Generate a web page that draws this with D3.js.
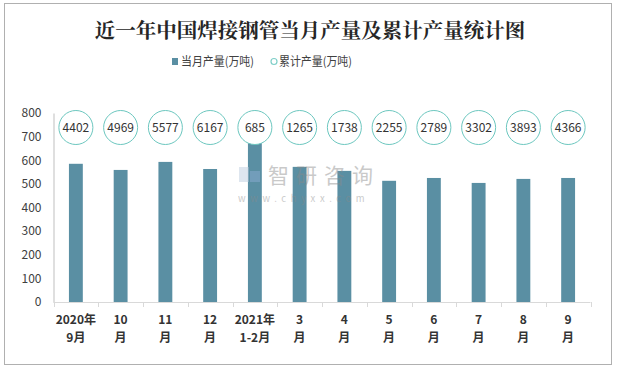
<!DOCTYPE html>
<html><head><meta charset="utf-8">
<script src="https://cdn.jsdelivr.net/npm/d3@7/dist/d3.min.js"></script>
<style>body{margin:0;background:#fff}svg{display:block}</style>
</head><body>
<svg id="c" width="617" height="369"></svg>
<script>
const categories = ["2020年|9月","10|月","11|月","12|月","2021年|1-2月","3|月","4|月","5|月","6|月","7|月","8|月","9|月"];
const monthly = [585,559,593,563,682,572,555,513,525,504,521,525];
const cumulative = [4402,4969,5577,6167,685,1265,1738,2255,2789,3302,3893,4366];
const yTicks = [0,100,200,300,400,500,600,700,800];

const svg = d3.select("#c");
const font = "'Microsoft YaHei','Noto Sans CJK SC',sans-serif";
svg.append("rect").attr("x",4.5).attr("y",3.5).attr("width",607).attr("height",361)
  .attr("fill","#fff").attr("stroke","#b0b0b0");

const x = d3.scaleBand().domain(categories).range([53.5,590.5]).paddingInner(0.69).paddingOuter(0.345);
const xb = d3.scaleBand().domain(categories).range([53.5,590.5]);
const y = d3.scaleLinear().domain([0,800]).range([302,113]);

// title
svg.append("text").attr("x",310).attr("y",38).attr("text-anchor","middle")
  .attr("font-family","'Noto Serif CJK SC','Noto Sans CJK SC',serif").attr("font-weight","bold")
  .attr("font-size",20.5).attr("fill","#262626").text("近一年中国焊接钢管当月产量及累计产量统计图");

// legend
const lg = svg.append("g").attr("font-family",font).attr("font-size",12).attr("fill","#404040");
lg.append("rect").attr("x",172).attr("y",58).attr("width",6).attr("height",7).attr("fill","#5a8fa3");
lg.append("text").attr("x",181).attr("y",66).attr("textLength",73).attr("lengthAdjust","spacingAndGlyphs").text("当月产量(万吨)");
lg.append("circle").attr("cx",274).attr("cy",61.5).attr("r",3).attr("fill","none").attr("stroke","#7fcfc8").attr("stroke-width",1.2);
lg.append("text").attr("x",279).attr("y",66).attr("textLength",73).attr("lengthAdjust","spacingAndGlyphs").text("累计产量(万吨)");

// y axis
const ya = svg.append("g").attr("transform","translate(53.5,0)")
  .call(d3.axisLeft(y).tickValues(yTicks).tickSize(0).tickPadding(12));
ya.select(".domain").attr("stroke","#bfbfbf");
ya.selectAll("text").attr("font-family",font).attr("font-size",12).attr("fill","#404040");

// bars
svg.append("g").selectAll("rect").data(categories).join("rect")
  .attr("x",d=>x(d)).attr("width",x.bandwidth())
  .attr("y",(d,i)=>y(monthly[i])).attr("height",(d,i)=>y(0)-y(monthly[i]))
  .attr("fill","#5a8fa3");

// watermark (over bars, semi-transparent)
const wm = svg.append("g").attr("opacity",0.45);
wm.append("rect").attr("x",239).attr("y",167).attr("width",10).attr("height",15).attr("fill","#b8c8dc");
wm.append("rect").attr("x",250).attr("y",171).attr("width",10).attr("height",11).attr("fill","#8fb0d6");
wm.append("text").attr("x",268).attr("y",183).attr("font-family",font).attr("font-size",21)
  .attr("fill","#8a8a8a").attr("letter-spacing",7).text("智研咨询");
wm.append("text").attr("x",238).attr("y",202).attr("font-family",font).attr("font-size",9.5)
  .attr("fill","#8a8a8a").attr("letter-spacing",4.6).text("www.chyxx.com");

// x axis
const xa = svg.append("g").attr("transform","translate(0,302)");
xa.append("line").attr("x1",53.5).attr("x2",590.5).attr("y1",0.5).attr("y2",0.5).attr("stroke","#d9d9d9");
xa.selectAll("line.t").data(d3.range(13)).join("line").attr("class","t")
  .attr("x1",i=>Math.round(53.5+xb.step()*i)+0.5).attr("x2",i=>Math.round(53.5+xb.step()*i)+0.5)
  .attr("y1",0).attr("y2",5).attr("stroke","#d9d9d9");
const xl = xa.selectAll("text").data(categories).join("text")
  .attr("text-anchor","middle").attr("font-family",font).attr("font-size",12).attr("font-weight","bold").attr("fill","#333");
xl.append("tspan").attr("x",d=>xb(d)+xb.bandwidth()/2).attr("y",22).text(d=>d.split("|")[0]);
xl.append("tspan").attr("x",d=>xb(d)+xb.bandwidth()/2).attr("y",40).text(d=>d.split("|")[1]);

// cumulative labels in circles
const cg = svg.append("g").selectAll("g").data(categories).join("g")
  .attr("transform",d=>`translate(${xb(d)+xb.bandwidth()/2},127.5)`);
cg.append("circle").attr("r",17).attr("fill","#fff").attr("stroke","#6cc7bf").attr("stroke-width",1);
cg.append("text").attr("text-anchor","middle").attr("dy","0.36em").attr("font-family",font)
  .attr("font-size",12).attr("fill","#333").text((d,i)=>cumulative[i]);
</script>
</body></html>
